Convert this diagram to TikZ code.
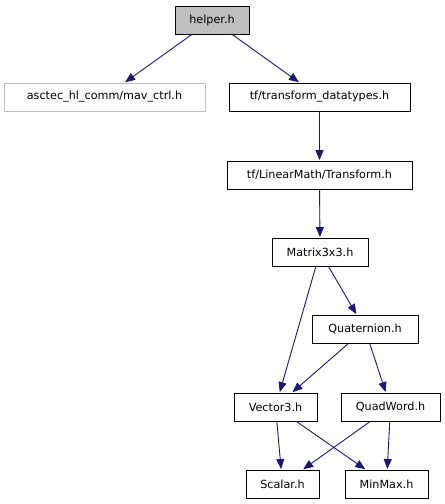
\documentclass[tikz,border=0pt]{standalone}
\usepackage{fontspec}
\usepackage{xcolor}
\usetikzlibrary{arrows.meta}
\setmainfont{DejaVu Sans}
\definecolor{doxyedge}{HTML}{191970}
\definecolor{doxygrey}{HTML}{BFBFBF}

\begin{document}
\begin{tikzpicture}[x=1pt, y=-1pt,
    filebox/.style={draw=black, line width=0.9pt, fill=white, minimum height=28pt, inner xsep=4pt, font=\fontsize{11.2}{13}\selectfont},
    incl/.style={-{Triangle[length=10pt, width=8pt]}, line width=0.9pt, doxyedge, shorten >=0.5pt}]
    \useasboundingbox (0,0) rectangle (445,504);

    % Files
    \node[filebox, fill=doxygrey, minimum width=74pt] (helper) at (212,20) {helper.h};
    \node[filebox, draw=doxygrey, minimum width=201pt] (mavctrl) at (104.5,97) {asctec\_hl\_comm/mav\_ctrl.h};
    \node[filebox, minimum width=181pt] (datatypes) at (319.5,97) {tf/transform\_datatypes.h};
    \node[filebox, minimum width=185pt] (transform) at (319.5,175) {tf/LinearMath/Transform.h};
    \node[filebox, minimum width=96pt] (matrix) at (320,252) {Matrix3x3.h};
    \node[filebox, minimum width=106pt] (quaternion) at (365,329) {Quaternion.h};
    \node[filebox, minimum width=83pt] (vector) at (275.5,407) {Vector3.h};
    \node[filebox, minimum width=99pt] (quadword) at (390.5,407) {QuadWord.h};
    \node[filebox, minimum width=73pt] (scalar) at (282.5,484) {Scalar.h};
    \node[filebox, minimum width=83pt] (minmax) at (386.5,484) {MinMax.h};

    % Includes
    \draw[incl] (helper) -- (mavctrl);
    \draw[incl] (helper) -- (datatypes);
    \draw[incl] (datatypes) -- (transform);
    \draw[incl] (transform) -- (matrix);
    \draw[incl] (matrix) -- (vector);
    \draw[incl] (matrix) -- (quaternion);
    \draw[incl] (quaternion) -- (vector);
    \draw[incl] (quaternion) -- (quadword);
    \draw[incl] (vector) -- (scalar);
    \draw[incl] (vector) -- (minmax);
    \draw[incl] (quadword) -- (scalar);
    \draw[incl] (quadword) -- (minmax);
\end{tikzpicture}
\end{document}
